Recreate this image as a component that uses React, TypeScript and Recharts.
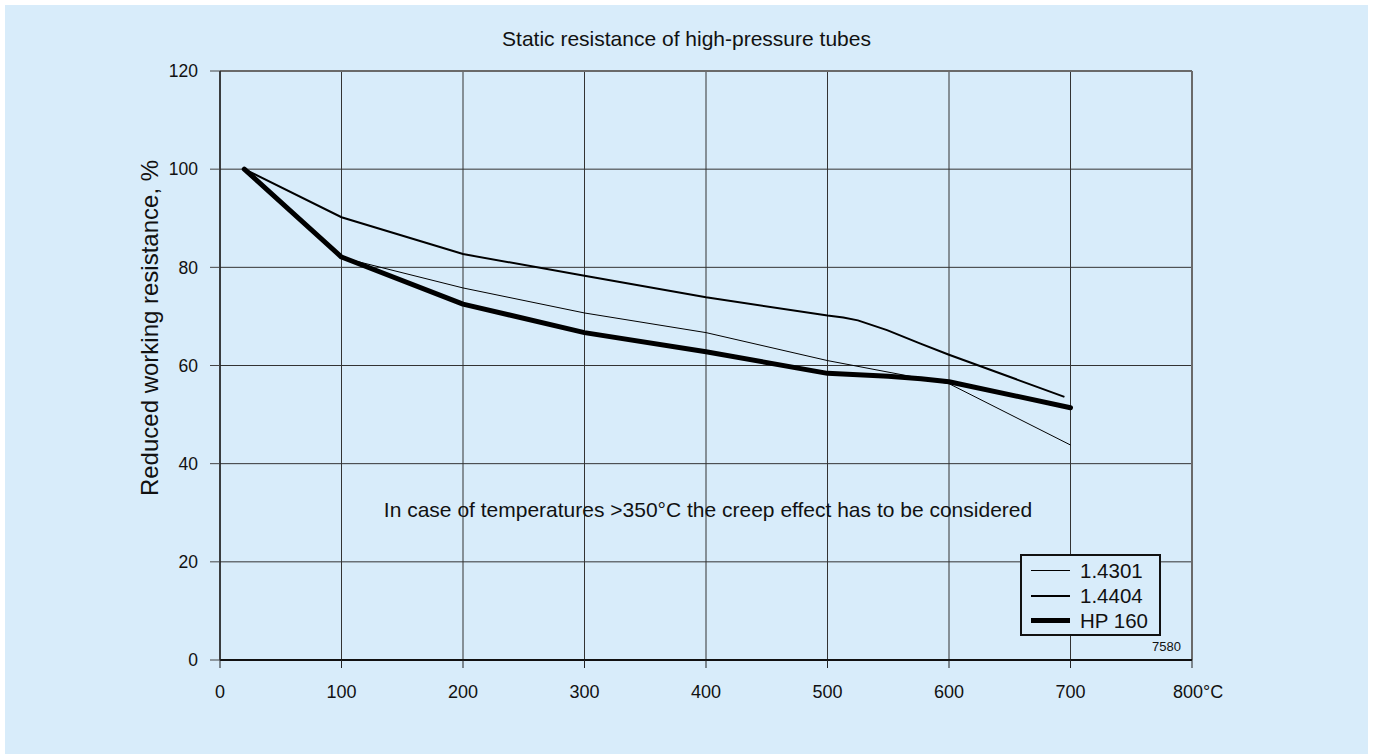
import { LineChart, Line, XAxis, YAxis, CartesianGrid, ReferenceLine } from "recharts";

// temperatures in °C
const temps14301 = [20, 100, 200, 300, 400, 500, 600, 700];
const temps14404 = [20, 100, 200, 300, 400, 500, 513, 525, 549, 576, 600, 695];
const tempsHp = [20, 100, 200, 300, 400, 500, 550, 577, 600, 700];

// reduced working resistance in %
const s14301 = [100, 82, 75.8, 70.7, 66.7, 61, 56.3, 43.8];
const s14404 = [100, 90.2, 82.7, 78.3, 73.9, 70.2, 69.8, 69.2, 67.2, 64.5, 62.2, 53.6];
const hp160 = [100, 82.1, 72.5, 66.7, 62.8, 58.4, 57.8, 57.3, 56.7, 51.4];

const xTicks = [0, 100, 200, 300, 400, 500, 600, 700, 800];
const yTicks = [0, 20, 40, 60, 80, 100, 120];

const seriesNames = ["1.4301", "1.4404", "HP 160"];
const seriesWidths = [1, 2, 5];

const bg = "#d8ecfa";
const font = "'Liberation Sans', Arial, sans-serif";

const d14301 = temps14301.map((t, i) => ({ t, v: s14301[i] }));
const d14404 = temps14404.map((t, i) => ({ t, v: s14404[i] }));
const dHp = tempsHp.map((t, i) => ({ t, v: hp160[i] }));

function XTick({ x, y, payload }: any) {
  const v = payload.value;
  if (v === 800) {
    return (
      <text x={x - 19} y={y} dy="0.71em" fontSize={18} fill="#111" textAnchor="start" fontFamily={font}>
        800°C
      </text>
    );
  }
  return (
    <text x={x} y={y} dy="0.71em" fontSize={18} fill="#111" textAnchor="middle" fontFamily={font}>
      {v}
    </text>
  );
}

export default function App() {
  return (
    <div style={{ position: "absolute", left: 0, top: 0, width: 1375, height: 754, background: "#fff", fontFamily: font }}>
      <div style={{ position: "absolute", left: 5, top: 5, width: 1363, height: 749, background: bg }} />
      <div style={{ position: "absolute", left: 5, width: 1363, top: 27, textAlign: "center", fontSize: 21, color: "#111" }}>
        Static resistance of high-pressure tubes
      </div>
      <div style={{ position: "absolute", left: 0, top: 0 }}>
        <LineChart width={1375} height={754} data={dHp} margin={{ top: 71, right: 183, bottom: 64, left: 140 }}>
          <CartesianGrid stroke="#333" strokeWidth={1} />
          <XAxis
            dataKey="t"
            type="number"
            domain={[0, 800]}
            ticks={xTicks}
            height={30}
            tickSize={8}
            tickMargin={17}
            axisLine={{ stroke: "#111", strokeWidth: 2 }}
            tickLine={{ stroke: "#222" }}
            tick={<XTick />}
            allowDataOverflow
          />
          <YAxis
            type="number"
            domain={[0, 120]}
            ticks={yTicks}
            width={80}
            tickSize={10}
            tickMargin={12}
            axisLine={{ stroke: "#222", strokeWidth: 1.5 }}
            tickLine={{ stroke: "#444" }}
            tick={{ fontSize: 17.5, fill: "#111", fontFamily: font }}
          />
          <ReferenceLine y={120} stroke="#6a6a6a" strokeWidth={2} />
          <ReferenceLine x={800} stroke="#6a6a6a" strokeWidth={2} />
          <Line data={d14301} dataKey="v" name={seriesNames[0]} stroke="#000" strokeWidth={seriesWidths[0]} dot={false} isAnimationActive={false} />
          <Line data={d14404} dataKey="v" name={seriesNames[1]} stroke="#000" strokeWidth={seriesWidths[1]} dot={false} isAnimationActive={false} />
          <Line
            data={dHp}
            dataKey="v"
            name={seriesNames[2]}
            stroke="#000"
            strokeWidth={seriesWidths[2]}
            strokeLinecap="round"
            strokeLinejoin="round"
            dot={false}
            isAnimationActive={false}
          />
        </LineChart>
      </div>
      <div
        style={{
          position: "absolute",
          left: 150,
          top: 328,
          transform: "translate(-50%, -50%) rotate(-90deg)",
          whiteSpace: "nowrap",
          fontSize: 24,
          color: "#111",
        }}
      >
        Reduced working resistance, %
      </div>
      <div style={{ position: "absolute", left: 708, top: 510, transform: "translate(-50%, -50%)", whiteSpace: "nowrap", fontSize: 21, color: "#111" }}>
        In case of temperatures &gt;350°C the creep effect has to be considered
      </div>
      <div style={{ position: "absolute", left: 1152, top: 639, fontSize: 13, color: "#111" }}>7580</div>
      <div
        style={{
          position: "absolute",
          left: 1020,
          top: 554,
          width: 137,
          height: 76,
          border: "2px solid #111",
          background: bg,
          paddingTop: 2,
          boxSizing: "content-box",
        }}
      >
        {seriesNames.map((n, i) => (
          <div key={n} style={{ display: "flex", alignItems: "center", height: 25, fontSize: 20.5, color: "#111" }}>
            <div style={{ marginLeft: 9, width: 39, height: seriesWidths[i], background: "#000" }} />
            <span style={{ marginLeft: 10 }}>{n}</span>
          </div>
        ))}
      </div>
    </div>
  );
}
